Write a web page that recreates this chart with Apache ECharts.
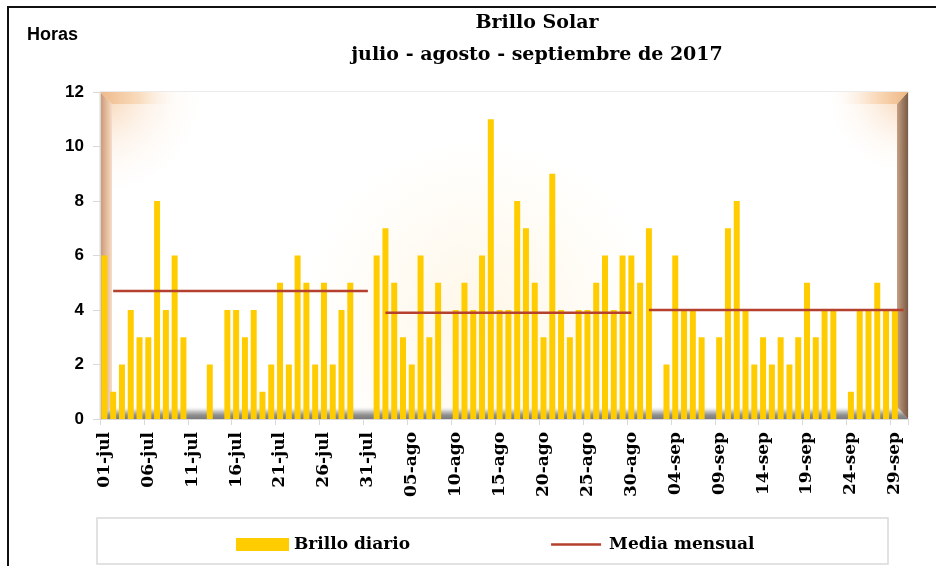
<!DOCTYPE html>
<html>
<head>
<meta charset="utf-8">
<script src="https://cdn.jsdelivr.net/npm/echarts@6/dist/echarts.min.js"></script>
<style>
html,body{margin:0;padding:0;background:#fff;}
#chart{width:936px;height:566px;}
</style>
</head>
<body>
<div id="chart"></div>
<script>
// ---- Data ----
const monthNames = ['jul', 'ago', 'sep'];
const monthDays = [31, 31, 30];

const brilloJul = [6,1,2,4,3,3,8,4,6,3,0,0,2,0,4,4,3,4,1,2,5,2,6,5,2,5,2,4,5,0,0];
const brilloAgo = [6,7,5,3,2,6,3,5,0,4,5,4,6,11,4,4,8,7,5,3,9,4,3,4,4,5,6,4,6,6,5];
const brilloSep = [7,0,2,6,4,4,3,0,3,7,8,4,2,3,2,3,2,3,5,3,4,4,0,1,4,4,5,4,4,0];

// monthly mean, drawn as one segment per month (null = gap)
const mediaJul = [null,4.7,4.7,4.7,4.7,4.7,4.7,4.7,4.7,4.7,4.7,4.7,4.7,4.7,4.7,4.7,4.7,4.7,4.7,4.7,4.7,4.7,4.7,4.7,4.7,4.7,4.7,4.7,4.7,4.7,4.7];
const mediaAgo = [null,3.9,3.9,3.9,3.9,3.9,3.9,3.9,3.9,3.9,3.9,3.9,3.9,3.9,3.9,3.9,3.9,3.9,3.9,3.9,3.9,3.9,3.9,3.9,3.9,3.9,3.9,3.9,3.9,3.9,null];
const mediaSep = [4.0,4.0,4.0,4.0,4.0,4.0,4.0,4.0,4.0,4.0,4.0,4.0,4.0,4.0,4.0,4.0,4.0,4.0,4.0,4.0,4.0,4.0,4.0,4.0,4.0,4.0,4.0,4.0,4.0,4.0];

const yTicks = [0, 2, 4, 6, 8, 10, 12];

// ---- Categories ----
const categories = [];
monthNames.forEach(function (m, k) {
  for (let d = 1; d <= monthDays[k]; d++) {
    categories.push((d < 10 ? '0' : '') + d + '-' + m);
  }
});
const brillo = brilloJul.concat(brilloAgo, brilloSep);
const media = mediaJul.concat(mediaAgo, mediaSep);

// ---- Layout constants (styles only) ----
const L = 100, R = 908, T = 92, B = 419;
const serif = '"DejaVu Serif", serif';
const sans = '"Liberation Sans", Arial, sans-serif';

function lin(x2, y2, stops) {
  return { type: 'linear', x: 0, y: 0, x2: x2, y2: y2,
    colorStops: stops.map(function (s) { return { offset: s[0], color: s[1] }; }) };
}
function rad(x, y, r, stops) {
  return { type: 'radial', x: x, y: y, r: r,
    colorStops: stops.map(function (s) { return { offset: s[0], color: s[1] }; }) };
}

const chart = echarts.init(document.getElementById('chart'), null, { renderer: 'canvas' });

const option = {
  backgroundColor: '#ffffff',
  animation: false,
  grid: {
    left: L, right: 936 - R, top: T, bottom: 566 - B,
    show: true, borderColor: '#D9D9D9', borderWidth: 1,
    backgroundColor: 'transparent'
  },
  legend: {
    left: 236, top: 536, padding: 0,
    itemWidth: 53, itemHeight: 13, itemGap: 141,
    textStyle: { fontFamily: serif, fontWeight: 'bold', fontSize: 17, color: '#000' },
    data: [
      { name: 'Brillo diario', icon: 'rect' },
      { name: 'Media mensual', icon: 'path://M0,0L0,0M0,5.3L50,5.3L50,7.8L0,7.8ZM53,13L53,13' }
    ]
  },
  xAxis: {
    type: 'category',
    data: categories,
    boundaryGap: true,
    axisLine: { show: true, lineStyle: { color: '#D9D9D9', width: 1 } },
    axisTick: { show: true, interval: 4, length: 6, lineStyle: { color: '#D9D9D9' } },
    axisLabel: {
      interval: 4, rotate: 90, margin: 13,
      fontFamily: serif, fontWeight: 'bold', fontSize: 17, color: '#000'
    },
    splitLine: { show: false }
  },
  yAxis: {
    type: 'value',
    min: yTicks[0], max: yTicks[yTicks.length - 1], interval: 2,
    axisLine: { show: true, lineStyle: { color: '#D9D9D9', width: 1 } },
    axisTick: { show: true, length: 7, lineStyle: { color: '#D9D9D9' } },
    axisLabel: { margin: 16, fontFamily: sans, fontWeight: 'bold', fontSize: 17, color: '#000' },
    splitLine: { show: false }
  },
  series: [
    {
      name: 'Brillo diario',
      type: 'bar',
      data: brillo,
      barWidth: 6,
      itemStyle: { color: '#FFCC00' },
      z: 3
    },
    {
      name: 'Media mensual',
      type: 'line',
      data: media,
      symbol: 'none',
      showSymbol: false,
      connectNulls: false,
      lineStyle: { color: '#B5402E', width: 2.5 },
      itemStyle: { color: '#B5402E' },
      z: 4
    }
  ],
  graphic: [
    // outer chart border
    { type: 'rect', z: 0, silent: true, shape: { x: 8, y: 7, width: 1000, height: 1000 },
      style: { fill: 'none', stroke: '#111', lineWidth: 2 } },
    // plot background
    { type: 'rect', z: 0, silent: true, shape: { x: L, y: T, width: R - L, height: B - T },
      style: { fill: rad(0.47, 0.68, 0.55, [[0, '#FFF7E8'], [0.6, '#FFFCF6'], [1, '#FFFFFF']]) } },
    // top-left glow
    { type: 'rect', z: 0, silent: true, shape: { x: L, y: T, width: 150, height: 230 },
      style: { fill: rad(0, 0, 0.75, [[0, 'rgba(243,190,140,0.75)'], [0.45, 'rgba(250,222,196,0.35)'], [1, 'rgba(255,255,255,0)']]) } },
    // top-right glow
    { type: 'rect', z: 0, silent: true, shape: { x: R - 110, y: T, width: 110, height: 260 },
      style: { fill: rad(1, 0, 0.8, [[0, 'rgba(243,190,140,0.75)'], [0.45, 'rgba(250,222,196,0.4)'], [1, 'rgba(255,255,255,0)']]) } },
    // left wall
    { type: 'polygon', z: 0, silent: true,
      shape: { points: [[L, T], [L + 12, T + 12], [L + 12, B - 11], [L, B]] },
      style: { fill: lin(1, 0, [[0, '#C99573'], [0.6, '#E6BFA2'], [1, '#F6DCC8']]) } },
    // top-left bevel
    { type: 'polygon', z: 0, silent: true,
      shape: { points: [[L, T], [L + 80, T], [L + 70, T + 12], [L + 12, T + 12]] },
      style: { fill: lin(1, 0, [[0, '#EFB98A'], [0.5, '#F9DDBF'], [1, 'rgba(255,255,255,0)']]) } },
    // right wall
    { type: 'polygon', z: 0, silent: true,
      shape: { points: [[R, T], [R, B], [R - 11, B - 11], [R - 11, T + 12]] },
      style: { fill: lin(1, 0, [[0, '#C4A084'], [0.5, '#9E7C62'], [1, '#7A5B45']]) } },
    // top-right bevel
    { type: 'polygon', z: 0, silent: true,
      shape: { points: [[R - 75, T], [R, T], [R - 11, T + 12], [R - 65, T + 12]] },
      style: { fill: lin(1, 0, [[0, 'rgba(255,255,255,0)'], [0.55, '#FADCBE'], [1, '#EFB783']]) } },
    // floor
    { type: 'polygon', z: 0, silent: true,
      shape: { points: [[L + 12, B - 13], [R - 11, B - 13], [R, B], [L, B]] },
      style: { fill: lin(0, 1, [[0, 'rgba(255,255,255,0)'], [0.4, '#C9C9C9'], [0.7, '#8F8F8F'], [1, '#7A7A7A']]) } },
    // legend frame
    { type: 'rect', z: 0, silent: true, shape: { x: 97, y: 518, width: 791, height: 46 },
      style: { fill: '#fff', stroke: '#D9D9D9', lineWidth: 1.5 } },
    // titles
    { type: 'text', z: 5, x: 537, y: 23,
      style: { text: 'Brillo Solar', align: 'center', verticalAlign: 'middle',
        font: 'bold 19px ' + serif, fill: '#000' } },
    { type: 'text', z: 5, x: 537, y: 55,
      style: { text: 'julio - agosto - septiembre de 2017', align: 'center', verticalAlign: 'middle',
        font: 'bold 19px ' + serif, fill: '#000' } },
    { type: 'text', z: 5, x: 27, y: 35,
      style: { text: 'Horas', align: 'left', verticalAlign: 'middle',
        font: 'bold 18px ' + sans, fill: '#000' } }
  ]
};
chart.setOption(option);
</script>
</body>
</html>
